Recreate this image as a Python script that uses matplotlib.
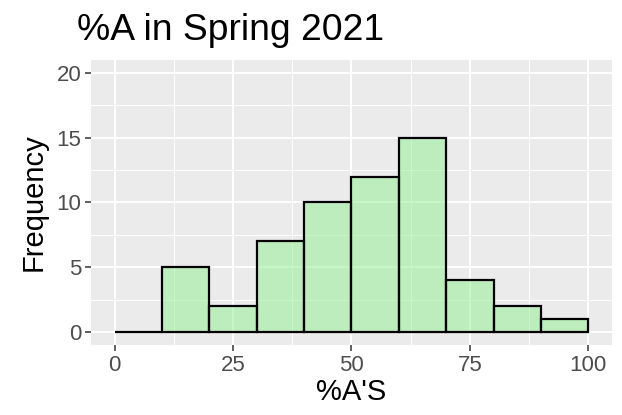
import matplotlib
matplotlib.use("Agg")
import matplotlib.pyplot as plt
import numpy as np

# histogram of %A's, bins of width 10
bin_edges = [0, 10, 20, 30, 40, 50, 60, 70, 80, 90, 100]
counts = [0, 5, 2, 7, 10, 12, 15, 4, 2, 1]
x_ticks = [0, 25, 50, 75, 100]
y_ticks = [0, 5, 10, 15, 20]

plt.rcParams['font.family'] = ['Liberation Sans', 'DejaVu Sans']

fig = plt.figure(figsize=(6.22, 4.15), dpi=100)
ax = fig.add_axes([0.1463, 0.1687, 0.8375, 0.6867])
ax.set_facecolor('#EBEBEB')

left = np.array(bin_edges[:-1])
widths = np.diff(bin_edges)
ax.bar(left, counts, width=widths, align='edge', color=(0.565, 0.933, 0.565, 0.5),
       edgecolor='black', linewidth=1.6, zorder=3)

ax.set_xlim(-5, 105)
ax.set_ylim(-1, 21)
ax.set_xticks(x_ticks)
ax.set_yticks(y_ticks)
ax.set_xticks([12.5, 37.5, 62.5, 87.5], minor=True)
ax.set_yticks([2.5, 7.5, 12.5, 17.5], minor=True)
ax.grid(which='major', color='white', linewidth=1.4, zorder=1)
ax.grid(which='minor', color='white', linewidth=0.7, zorder=1)
ax.set_axisbelow(True)
for s in ax.spines.values():
    s.set_visible(False)

ax.tick_params(which='major', length=4, width=1.1, color='#333333',
               labelsize=16, labelcolor='#4D4D4D', pad=3)
ax.tick_params(which='minor', length=0)

ax.set_xlabel("%A'S", fontsize=21, labelpad=2)
ax.set_ylabel("Frequency", fontsize=21, labelpad=6)
fig.text(77 / 622, 1 - 40 / 415, "%A in Spring 2021", fontsize=26.8, ha='left', va='baseline')

fig.savefig("out.png", dpi=100)
